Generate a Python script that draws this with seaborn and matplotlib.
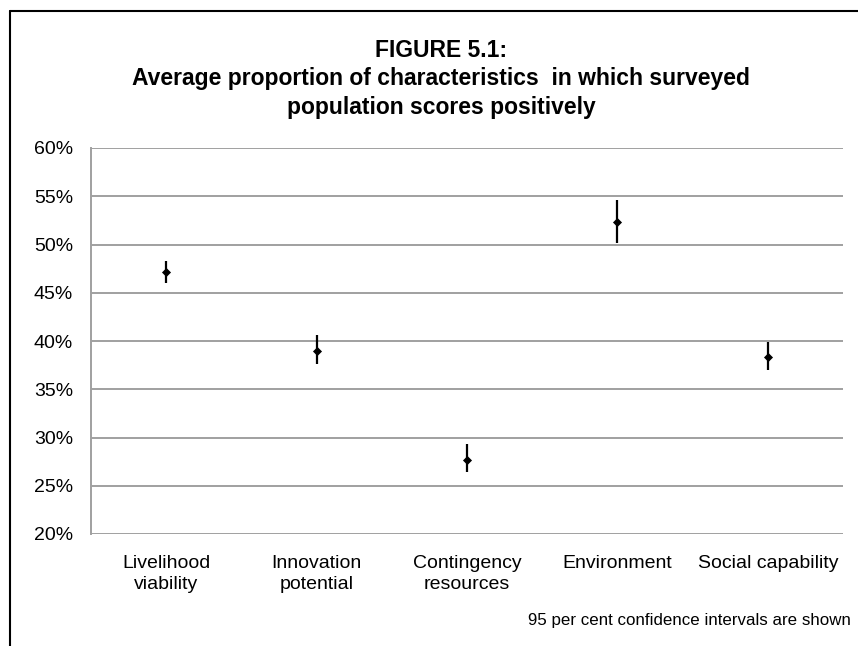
import matplotlib
matplotlib.use("Agg")
import matplotlib.pyplot as plt
import seaborn as sns
import pandas as pd
from matplotlib.lines import Line2D
from matplotlib.ticker import FuncFormatter

categories = ["Livelihood\nviability", "Innovation\npotential", "Contingency\nresources",
              "Environment", "Social capability"]
means = [47.1, 39.0, 27.7, 52.3, 38.3]
ci_low = [46.0, 37.6, 26.4, 50.2, 37.0]
ci_high = [48.3, 40.6, 29.3, 54.6, 39.9]
yticks = [20, 25, 30, 35, 40, 45, 50, 55, 60]

title = "FIGURE 5.1:\nAverage proportion of characteristics  in which surveyed\npopulation scores positively"
note = "95 per cent confidence intervals are shown"

sns.set_theme(style="white")
plt.rcParams["font.family"] = ["Liberation Sans", "DejaVu Sans"]
plt.rcParams["text.color"] = "black"

df = pd.DataFrame({"category": categories, "mean": means})

W, H = 858, 646
fig = plt.figure(figsize=(W / 100, H / 100), dpi=100)
ax = fig.add_axes([91 / W, 1 - 534 / H, (843 - 91) / W, (534 - 148) / H])

sns.pointplot(data=df, x="category", y="mean", order=categories, linestyle="none",
              markers="D", color="black", markersize=2.6, errorbar=None, ax=ax)
yerr = [[m - lo for m, lo in zip(means, ci_low)], [hi - m for m, hi in zip(means, ci_high)]]
ax.errorbar(range(len(categories)), means, yerr=yerr, fmt="none", ecolor="black",
            elinewidth=1.6, capsize=0, zorder=3)

ax.set_ylim(20, 60)
ax.set_xlim(-0.5, len(categories) - 0.5)
ax.set_yticks(yticks)
ax.yaxis.set_major_formatter(FuncFormatter(lambda v, p: f"{v:.0f}%"))
ax.grid(axis="y", color="#a0a0a0", linewidth=1.4)
ax.grid(axis="x", visible=False)
ax.set_axisbelow(True)
for s in ["top", "right", "bottom"]:
    ax.spines[s].set_visible(False)
ax.spines["left"].set_color("#a0a0a0")
ax.spines["left"].set_linewidth(1.4)
ax.tick_params(axis="y", length=0, pad=13, labelsize=14, labelcolor="black")
ax.tick_params(axis="x", length=0, pad=15, labelsize=14, labelcolor="black")
for lab in ax.get_xticklabels():
    lab.set_linespacing(1.3)
ax.set_xlabel("")
ax.set_ylabel("")

fig.text(441 / W, 1 - 79 / H, title, ha="center", va="center", fontsize=16.5,
         fontweight="bold", linespacing=1.32, color="black")
fig.text(851 / W, 1 - 621 / H, note, ha="right", va="center", fontsize=12.2, color="black")

fig.add_artist(Line2D([10 / W, 1.0], [1 - 11 / H, 1 - 11 / H], color="black", lw=1.5,
                      transform=fig.transFigure))
fig.add_artist(Line2D([10 / W, 10 / W], [1 - 11 / H, 0.0], color="black", lw=1.5,
                      transform=fig.transFigure))

fig.savefig("out.png", dpi=100)
